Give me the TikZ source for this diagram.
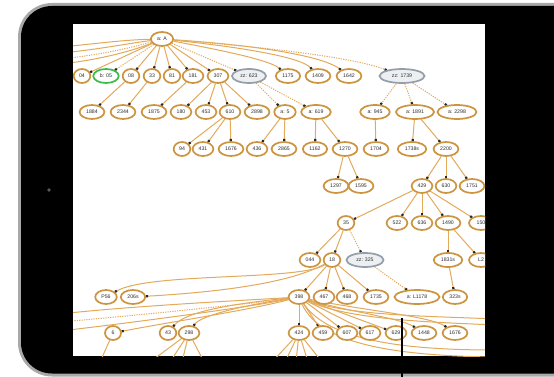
\documentclass[tikz,border=0pt]{standalone}
\usepackage{fontspec}
\setmainfont{Liberation Sans}
\usetikzlibrary{shapes.geometric,arrows.meta}
\pgfdeclarelayer{back}
\pgfdeclarelayer{edges}
\pgfsetlayers{back,edges,main}
\definecolor{nodeor}{HTML}{CD9440}
\definecolor{edgeor}{HTML}{E3AA5C}
\definecolor{gnode}{HTML}{959EA8}
\definecolor{gfill}{HTML}{EDF0F3}
\definecolor{grnode}{HTML}{3DBB4A}
\definecolor{rim}{HTML}{A8A8A8}
\definecolor{ntext}{HTML}{2E2E2E}
\tikzset{
  nd/.style={ellipse, draw=nodeor, line width=1.7pt, fill=white, inner xsep=3pt, inner ysep=0.8pt,
    minimum height=14pt, minimum width=16pt, font=\fontsize{5.2}{6}\selectfont, text=ntext},
  gn/.style={nd, draw=gnode, fill=gfill},
  grn/.style={nd, draw=grnode},
  ed/.style={draw=edgeor, line width=1pt, -{Square[length=2.2pt,width=2.2pt,color=black!85]}},
  dt/.style={ed, dash pattern=on 1.2pt off 1.2pt},
  ln/.style={draw=edgeor, line width=1pt},
  lnd/.style={ln, dash pattern=on 1.2pt off 1.2pt},
}
\begin{document}
\begin{tikzpicture}[x=1pt,y=-1pt]
\useasboundingbox (0,0) rectangle (554,377);
% tablet
\begin{pgfonlayer}{back}
\fill[rim, rounded corners=34pt] (18,3) rectangle (640,376.5);
\fill[black, rounded corners=31pt] (21,6) rectangle (637,373.5);
\fill[white] (73,24) rectangle (485,356);
\fill[black!65] (49,190) circle (1.8pt);
\end{pgfonlayer}
% nodes
\begin{scope}
\clip (73,24) rectangle (485,356);
\node[nd] (aA) at (162,39) {a: A};
% row 2
\node[nd] (n04) at (82,76) {04};
\node[grn] (b05) at (106,76) {b: 05};
\node[nd] (n08) at (131,76) {08};
\node[nd] (n33) at (152,76) {33};
\node[nd] (n81) at (172,76) {81};
\node[nd] (n181) at (193,76) {181};
\node[nd] (n307) at (218,76) {307};
\node[gn, minimum width=34pt] (zz623) at (249,76) {zz: 623};
\node[nd] (n1175) at (288,76) {1175};
\node[nd] (n1409) at (318,76) {1409};
\node[nd] (n1642) at (349,76) {1642};
\node[gn, minimum width=45pt] (zz1739) at (402,76) {zz: 1739};
% row 3
\node[nd] (n1884) at (92,112) {1884};
\node[nd] (n2344) at (123,112) {2344};
\node[nd] (n1875) at (154,112) {1875};
\node[nd] (n180) at (181,112) {180};
\node[nd] (n453) at (206,112) {453};
\node[nd] (n610) at (230,112) {610};
\node[nd] (n2898) at (257,112) {2898};
\node[nd] (a5) at (285,112) {a: 5};
\node[nd] (a619) at (316,112) {a: 619};
\node[nd] (a945) at (375,112) {a: 945};
\node[nd, minimum width=38pt] (a1891) at (415,112) {a: 1891};
\node[nd, minimum width=39pt] (a2298) at (457,112) {a: 2298};
% row 4
\node[nd] (n94) at (182,149) {94};
\node[nd] (n431) at (203,149) {431};
\node[nd] (n1676) at (231,149) {1676};
\node[nd] (n436) at (257,149) {436};
\node[nd] (n2865) at (284,149) {2865};
\node[nd] (n1162) at (315,149) {1162};
\node[nd] (n1270) at (345,149) {1270};
\node[nd] (n1704) at (376,149) {1704};
\node[nd] (n1738s) at (412,149) {1738s};
\node[nd] (n2200) at (446,149) {2200};
% row 5
\node[nd] (n1297) at (336,186) {1297};
\node[nd] (n1595) at (361,186) {1595};
\node[nd] (n429) at (422,186) {429};
\node[nd] (n630) at (446,186) {630};
\node[nd] (n1751) at (472,186) {1751};
% row 6
\node[nd] (n35) at (346,223) {35};
\node[nd] (n522) at (397,223) {522};
\node[nd] (n636) at (422,223) {636};
\node[nd] (n1490) at (448,223) {1490};
\node[nd, minimum width=24pt] (n150) at (481,223) {150};
% row 7
\node[nd] (n044) at (310,260) {044};
\node[nd] (n18) at (332,260) {18};
\node[gn, minimum width=37pt] (zz325) at (365,260) {zz: 325};
\node[nd] (n1831s) at (448,260) {1831s};
\node[nd, minimum width=24pt] (nL2) at (481,260) {L2};
% row 8
\node[nd] (P56) at (106,297) {P56};
\node[nd] (n206s) at (133,297) {206s};
\node[nd] (n398) at (299,297) {398};
\node[nd] (n467) at (324,297) {467};
\node[nd] (n468) at (347,297) {468};
\node[nd] (n1735) at (376,297) {1735};
\node[nd, minimum width=45pt] (aL1178) at (417,297) {a: L1178};
\node[nd] (n323s) at (455,297) {323s};
% row 9
\node[nd] (n6) at (113,333) {6};
\node[nd] (n43) at (168,333) {43};
\node[nd] (n298) at (189,333) {298};
\node[nd] (n424) at (299,333) {424};
\node[nd] (n459) at (323,333) {459};
\node[nd] (n607) at (347,333) {607};
\node[nd] (n617) at (370,333) {617};
\node[nd] (n629) at (396,333) {629};
\node[nd] (n1448) at (424,333) {1448};
\node[nd] (n1676b) at (455,333) {1676};
\end{scope}
% edges
\begin{pgfonlayer}{edges}
\begin{scope}
\clip (73,24) rectangle (485,356);
% off-screen curves from a:A
\draw[ln] (aA) .. controls (120,40) and (95,44) .. (60,47);
\draw[ln] (aA) .. controls (125,44) and (95,50) .. (60,53);
\draw[lnd] (aA) .. controls (130,48) and (100,55) .. (60,59);
\draw[ln] (aA) .. controls (135,50) and (100,60) .. (60,64);
% a:A children
\draw[ed] (aA) -- (n04);
\draw[dt] (aA) -- (b05);
\draw[ed] (aA) -- (n08);
\draw[ed] (aA) -- (n33);
\draw[ed] (aA) -- (n81);
\draw[ed] (aA) -- (n181);
\draw[ed] (aA) -- (n307);
\draw[dt] (aA) -- (zz623);
\draw[ed] (aA) .. controls (220,50) and (270,60) .. (n1175);
\draw[ed] (aA) .. controls (230,46) and (300,56) .. (n1409);
\draw[ed] (aA) .. controls (240,44) and (320,54) .. (n1642);
\draw[dt] (aA) .. controls (250,46) and (350,56) .. (zz1739);
% row 3
\draw[ed] (n08) -- (n1884);
\draw[ed] (n33) -- (n2344);
\draw[ed] (n181) -- (n1875);
\draw[ed] (n307) -- (n180);
\draw[ed] (n307) -- (n453);
\draw[ed] (n307) -- (n610);
\draw[ed] (n307) -- (n2898);
\draw[dt] (zz623) -- (a5);
\draw[dt] (zz623) -- (a619);
\draw[dt] (zz1739) -- (a945);
\draw[dt] (zz1739) -- (a1891);
\draw[dt] (zz1739) -- (a2298);
% row 4
\draw[ed] (n610) -- (n94);
\draw[ed] (n610) -- (n431);
\draw[ed] (n610) -- (n1676);
\draw[ed] (a5) -- (n436);
\draw[ed] (a5) -- (n2865);
\draw[ed] (a619) -- (n1162);
\draw[ed] (a619) -- (n1270);
\draw[ed] (a945) -- (n1704);
\draw[ed] (a1891) -- (n1738s);
\draw[ed] (a1891) -- (n2200);
% row 5
\draw[ed] (n1270) -- (n1297);
\draw[ed] (n1270) -- (n1595);
\draw[ed] (n2200) -- (n429);
\draw[ed] (n2200) -- (n630);
\draw[ed] (n2200) -- (n1751);
% row 6
\draw[ed] (n429) -- (n35);
\draw[ed] (n429) -- (n522);
\draw[ed] (n429) -- (n636);
\draw[ed] (n429) -- (n1490);
\draw[ed] (n429) -- (n150);
% row 7
\draw[ed] (n35) -- (n044);
\draw[ed] (n35) -- (n18);
\draw[dt] (n35) -- (zz325);
\draw[ed] (n1490) -- (n1831s);
\draw[ed] (n1490) -- (nL2);
% row 8
\draw[ed] (n18) .. controls (300,281) and (150,272) .. (P56);
\draw[ed] (n18) .. controls (290,283) and (220,292) .. (n206s);
\draw[ed] (n18) -- (n398);
\draw[ed] (n18) -- (n467);
\draw[ed] (n18) -- (n468);
\draw[ed] (n18) -- (n1735);
\draw[dt] (zz325) -- (aL1178);
\draw[ed] (n1831s) -- (n323s);
% row 9
\draw[ed] (n398) -- (n424);
\draw[ed] (n398) -- (n459);
\draw[ed] (n398) -- (n607);
\draw[ed] (n398) -- (n617);
\draw[ed] (n398) -- (n629);
\draw[ed] (n398) .. controls (350,312) and (400,318) .. (n1448);
\draw[ed] (n398) .. controls (360,310) and (430,316) .. (n1676b);
\draw[ed] (n398) .. controls (250,310) and (170,322) .. (n6);
\draw[ed] (n398) .. controls (240,306) and (200,316) .. (n298);
\draw[ed] (n398) .. controls (230,304) and (185,312) .. (n43);
% off-screen lines from 398
\draw[ln] (n398) .. controls (250,300) and (130,306) .. (60,314);
\draw[lnd] (n398) .. controls (250,304) and (130,316) .. (60,322);
\draw[ln] (n398) .. controls (250,307) and (130,323) .. (60,331);
\draw[ln] (n398) .. controls (350,316) and (430,316) .. (495,319);
\draw[ln] (n398) .. controls (350,320) and (430,322) .. (495,325);
\draw[ln] (n398) .. controls (330,342) and (410,350) .. (495,350);
\draw[ln] (n398) .. controls (320,345) and (400,356) .. (495,357);
% lines going below the screen
\draw[ln] (n424) -- (272,362);
\draw[ln] (n424) -- (285,362);
\draw[ln] (n424) -- (296,362);
\draw[ln] (n424) -- (308,362);
\draw[ln] (n424) -- (322,362);
\draw[ln] (n6) -- (100,362);
\draw[ln] (n298) -- (150,362);
\draw[ln] (n298) -- (170,362);
\draw[ln] (n298) -- (182,362);
\draw[ln] (n298) -- (204,362);
\end{scope}
\end{pgfonlayer}
% callout pointer
\coordinate (calloutTop) at (402,318);
\coordinate (calloutBot) at (402,377);
\draw[line width=1.1pt] (calloutTop) -- (calloutBot);
\end{tikzpicture}
\end{document}
